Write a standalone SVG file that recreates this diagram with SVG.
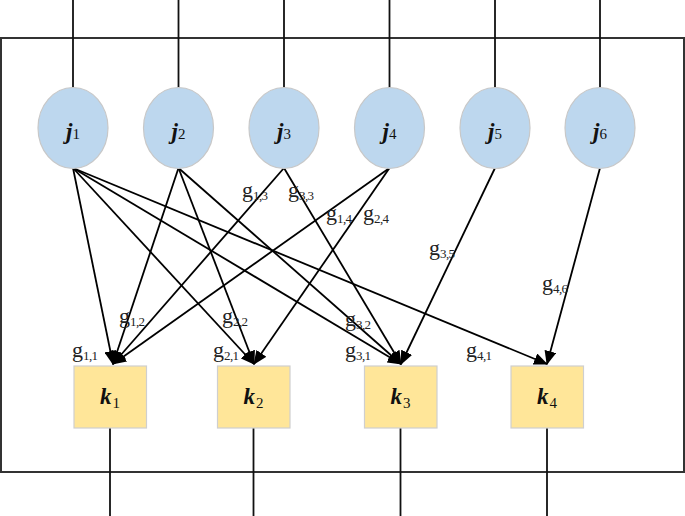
<svg xmlns="http://www.w3.org/2000/svg" width="685" height="516" viewBox="0 0 685 516">
<style>
.frame{fill:none;stroke:#333;stroke-width:2}
.wire{stroke:#111;stroke-width:1.8;fill:none}
.edge{stroke:#000;stroke-width:1.8;fill:none;marker-end:url(#ah)}
.jn{fill:#BDD7EE;stroke:#c8c8c8;stroke-width:1.2}
.kn{fill:#FFE699;stroke:#cfcfcf;stroke-width:1.2}
.nl{font-family:"Liberation Serif","Times New Roman",serif;font-weight:bold;font-style:italic;font-size:23px;fill:#111}
.ns{font-style:normal;font-weight:normal;font-size:15px}
.gl{font-family:"Liberation Serif","Times New Roman",serif;font-size:22px;fill:#222}
.gs{font-size:13px;letter-spacing:-0.6px}
</style>
<defs>
<marker id="ah" markerUnits="userSpaceOnUse" markerWidth="14" markerHeight="12" refX="13" refY="6" orient="auto">
<path d="M0,0 L14,6 L0,12 z" fill="#000"/>
</marker>
</defs>
<rect class="frame" x="1" y="38" width="683" height="434"/>
<g id="wires">
<line class="wire" x1="73" y1="0" x2="73" y2="88"/>
<line class="wire" x1="178.5" y1="0" x2="178.5" y2="88"/>
<line class="wire" x1="284" y1="0" x2="284" y2="88"/>
<line class="wire" x1="389.5" y1="0" x2="389.5" y2="88"/>
<line class="wire" x1="495" y1="0" x2="495" y2="88"/>
<line class="wire" x1="600" y1="0" x2="600" y2="88"/>
<line class="wire" x1="110" y1="428" x2="110" y2="516"/>
<line class="wire" x1="253.5" y1="428" x2="253.5" y2="516"/>
<line class="wire" x1="400.5" y1="428" x2="400.5" y2="516"/>
<line class="wire" x1="547" y1="428" x2="547" y2="516"/>
</g>
<g id="connectors">
<line class="edge" x1="73" y1="168" x2="113" y2="364"/>
<line class="edge" x1="73" y1="168" x2="254" y2="364"/>
<line class="edge" x1="73" y1="168" x2="401" y2="364"/>
<line class="edge" x1="73" y1="168" x2="547" y2="364"/>
<line class="edge" x1="178.5" y1="168" x2="113" y2="364"/>
<line class="edge" x1="178.5" y1="168" x2="254" y2="364"/>
<line class="edge" x1="178.5" y1="168" x2="401" y2="364"/>
<line class="edge" x1="284" y1="168" x2="113" y2="364"/>
<line class="edge" x1="284" y1="168" x2="401" y2="364"/>
<line class="edge" x1="389.5" y1="168" x2="113" y2="364"/>
<line class="edge" x1="389.5" y1="168" x2="254" y2="364"/>
<line class="edge" x1="495" y1="168" x2="401" y2="364"/>
<line class="edge" x1="600" y1="168" x2="547" y2="364"/>
</g>
<g id="edge-labels">
<text class="gl" x="72" y="357">g<tspan class="gs" dy="3">1,1</tspan></text>
<text class="gl" x="213" y="357">g<tspan class="gs" dy="3">2,1</tspan></text>
<text class="gl" x="345" y="357">g<tspan class="gs" dy="3">3,1</tspan></text>
<text class="gl" x="466" y="357">g<tspan class="gs" dy="3">4,1</tspan></text>
<text class="gl" x="119" y="323">g<tspan class="gs" dy="3">1,2</tspan></text>
<text class="gl" x="222" y="323">g<tspan class="gs" dy="3">2,2</tspan></text>
<text class="gl" x="345" y="326">g<tspan class="gs" dy="3">3,2</tspan></text>
<text class="gl" x="242" y="197">g<tspan class="gs" dy="3">1,3</tspan></text>
<text class="gl" x="288" y="197">g<tspan class="gs" dy="3">3,3</tspan></text>
<text class="gl" x="326" y="220">g<tspan class="gs" dy="3">1,4</tspan></text>
<text class="gl" x="363" y="220">g<tspan class="gs" dy="3">2,4</tspan></text>
<text class="gl" x="429" y="255">g<tspan class="gs" dy="3">3,5</tspan></text>
<text class="gl" x="542" y="290">g<tspan class="gs" dy="3">4,6</tspan></text>
</g>
<g id="j1"><ellipse class="jn" cx="73" cy="128" rx="35" ry="40.5"/><text class="nl" x="73" y="139" text-anchor="middle">j<tspan class="ns">1</tspan></text></g>
<g id="j2"><ellipse class="jn" cx="178.5" cy="128" rx="35" ry="40.5"/><text class="nl" x="178.5" y="139" text-anchor="middle">j<tspan class="ns">2</tspan></text></g>
<g id="j3"><ellipse class="jn" cx="284" cy="128" rx="35" ry="40.5"/><text class="nl" x="284" y="139" text-anchor="middle">j<tspan class="ns">3</tspan></text></g>
<g id="j4"><ellipse class="jn" cx="389.5" cy="128" rx="35" ry="40.5"/><text class="nl" x="389.5" y="139" text-anchor="middle">j<tspan class="ns">4</tspan></text></g>
<g id="j5"><ellipse class="jn" cx="495" cy="128" rx="35" ry="40.5"/><text class="nl" x="495" y="139" text-anchor="middle">j<tspan class="ns">5</tspan></text></g>
<g id="j6"><ellipse class="jn" cx="600" cy="128" rx="35" ry="40.5"/><text class="nl" x="600" y="139" text-anchor="middle">j<tspan class="ns">6</tspan></text></g>
<g id="k1"><rect class="kn" x="74" y="366" width="72.5" height="62"/><text class="nl" x="110" y="404" text-anchor="middle">k<tspan class="ns" dx="1" dy="4" font-size="16px">1</tspan></text></g>
<g id="k2"><rect class="kn" x="217.5" y="366" width="72.5" height="62"/><text class="nl" x="253.5" y="404" text-anchor="middle">k<tspan class="ns" dx="1" dy="4" font-size="16px">2</tspan></text></g>
<g id="k3"><rect class="kn" x="364.5" y="366" width="72.5" height="62"/><text class="nl" x="400.5" y="404" text-anchor="middle">k<tspan class="ns" dx="1" dy="4" font-size="16px">3</tspan></text></g>
<g id="k4"><rect class="kn" x="511" y="366" width="72.5" height="62"/><text class="nl" x="547" y="404" text-anchor="middle">k<tspan class="ns" dx="1" dy="4" font-size="16px">4</tspan></text></g>
</svg>
